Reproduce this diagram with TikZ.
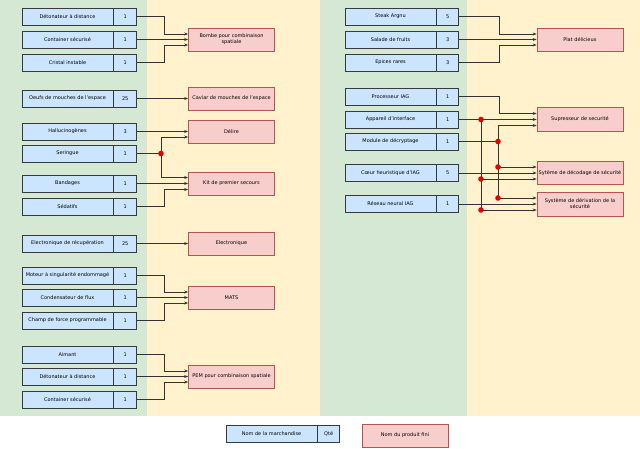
\documentclass[tikz,border=0pt]{standalone}
\usepackage{fontspec}
\setmainfont{DejaVu Sans}
\usepackage{xcolor}
\usepackage{tikz}
\usetikzlibrary{arrows.meta,positioning}

\definecolor{fondvert}{HTML}{D5E8D4}
\definecolor{fondjaune}{HTML}{FFF2CC}
\definecolor{bleuclair}{HTML}{CCE5FF}
\definecolor{bordgris}{HTML}{36393D}
\definecolor{rosefini}{HTML}{F8CECC}
\definecolor{bordrose}{HTML}{B85450}
\definecolor{traitgris}{HTML}{333333}

\tikzset{
  marchandise/.style={draw=bordgris, fill=bleuclair, line width=0.7pt,
    minimum width=91pt, minimum height=17pt, inner sep=0pt},
  quantite/.style={marchandise, minimum width=23pt},
  produit/.style={draw=bordrose, fill=rosefini, line width=0.7pt,
    minimum width=86pt, minimum height=23pt, inner sep=0pt, align=center},
  fleche/.style={draw=traitgris, line width=0.7pt, -{Stealth[length=4pt,width=3pt]}},
  trait/.style={draw=traitgris, line width=0.7pt},
  jonction/.style={fill=red!90!black}
}

\begin{document}
\begin{tikzpicture}[x=1pt, y=-1pt, every node/.style={font=\fontsize{5}{6}\selectfont}]
    % Fond et zones
    \useasboundingbox (0,0) rectangle (640,448);
    \fill[white] (0,0) rectangle (640,448);
    \fill[fondvert] (0,0) rectangle (147,416);
    \fill[fondjaune] (147,0) rectangle (320,416);
    \fill[fondvert] (320,0) rectangle (467,416);
    \fill[fondjaune] (467,0) rectangle (640,416);

    % Colonne de gauche : marchandises
    \node[marchandise] (detA) at (67.5,16.5) {Détonateur à distance};
    \node[quantite, right=0pt of detA] (detAq) {1};
    \node[marchandise] (contA) at (67.5,39.5) {Container sécurisé};
    \node[quantite, right=0pt of contA] (contAq) {1};
    \node[marchandise] (crist) at (67.5,62.5) {Cristal instable};
    \node[quantite, right=0pt of crist] (cristq) {1};

    \node[marchandise] (oeufs) at (67.5,98.5) {Oeufs de mouches de l'espace};
    \node[quantite, right=0pt of oeufs] (oeufsq) {25};

    \node[marchandise] (hallu) at (67.5,131.5) {Hallucinogènes};
    \node[quantite, right=0pt of hallu] (halluq) {3};
    \node[marchandise] (ser) at (67.5,153.5) {Seringue};
    \node[quantite, right=0pt of ser] (serq) {1};
    \node[marchandise] (band) at (67.5,183.5) {Bandages};
    \node[quantite, right=0pt of band] (bandq) {1};
    \node[marchandise] (sed) at (67.5,206.5) {Sédatifs};
    \node[quantite, right=0pt of sed] (sedq) {1};

    \node[marchandise] (elec) at (67.5,243.5) {Electronique de récupération};
    \node[quantite, right=0pt of elec] (elecq) {25};

    \node[marchandise] (mot) at (67.5,275.5) {Moteur à singularité endommagé};
    \node[quantite, right=0pt of mot] (motq) {1};
    \node[marchandise] (cond) at (67.5,297.5) {Condensateur de flux};
    \node[quantite, right=0pt of cond] (condq) {1};
    \node[marchandise] (champ) at (67.5,320.5) {Champ de force programmable};
    \node[quantite, right=0pt of champ] (champq) {1};

    \node[marchandise] (aim) at (67.5,354.5) {Aimant};
    \node[quantite, right=0pt of aim] (aimq) {1};
    \node[marchandise] (detB) at (67.5,376.5) {Détonateur à distance};
    \node[quantite, right=0pt of detB] (detBq) {1};
    \node[marchandise] (contB) at (67.5,399.5) {Container sécurisé};
    \node[quantite, right=0pt of contB] (contBq) {1};

    % Colonne de gauche : produits finis
    \node[produit] (bombe) at (231.5,39.5) {Bombe pour combinaison\\spatiale};
    \node[produit] (caviar) at (231.5,98.5) {Caviar de mouches de l'espace};
    \node[produit] (delire) at (231.5,131.5) {Délire};
    \node[produit] (kit) at (231.5,183.5) {Kit de premier secours};
    \node[produit] (elecp) at (231.5,243.5) {Electronique};
    \node[produit] (mats) at (231.5,297.5) {MATS};
    \node[produit] (pem) at (231.5,376.5) {PEM pour combinaison spatiale};

    % Colonne de droite : marchandises
    \node[marchandise] (steak) at (390.5,16.5) {Steak Argnu};
    \node[quantite, minimum width=22pt, right=0pt of steak] (steakq) {5};
    \node[marchandise] (salade) at (390.5,39.5) {Salade de fruits};
    \node[quantite, minimum width=22pt, right=0pt of salade] (saladeq) {3};
    \node[marchandise] (epices) at (390.5,62.5) {Epices rares};
    \node[quantite, minimum width=22pt, right=0pt of epices] (epicesq) {3};

    \node[marchandise] (proc) at (390.5,96.5) {Processeur IAG};
    \node[quantite, minimum width=22pt, right=0pt of proc] (procq) {1};
    \node[marchandise] (app) at (390.5,119.5) {Appareil d'interface};
    \node[quantite, minimum width=22pt, right=0pt of app] (appq) {1};
    \node[marchandise] (mod) at (390.5,141.5) {Module de décryptage};
    \node[quantite, minimum width=22pt, right=0pt of mod] (modq) {1};
    \node[marchandise] (coeur) at (390.5,173) {Cœur heuristique d'IAG};
    \node[quantite, minimum width=22pt, right=0pt of coeur] (coeurq) {5};
    \node[marchandise] (reseau) at (390.5,204) {Réseau neural IAG};
    \node[quantite, minimum width=22pt, right=0pt of reseau] (reseauq) {1};

    % Colonne de droite : produits finis
    \node[produit] (plat) at (580,39.5) {Plat délicieux};
    \node[produit, minimum height=24pt] (supp) at (580,119.5) {Supresseur de securité};
    \node[produit] (decod) at (580,173) {Sytème de décodage de sécurité};
    \node[produit, minimum height=24pt] (deriv) at (580,204) {Système de dérivation de la\\sécurité};

    % Liaisons gauche
    \draw[fleche] (detAq.east) -- ++(27,0) |- ([yshift=5.5pt]bombe.west);
    \draw[fleche] (contAq.east) -- (bombe.west);
    \draw[fleche] (cristq.east) -- ++(27,0) |- ([yshift=-5.5pt]bombe.west);
    \draw[fleche] (oeufsq.east) -- (caviar.west);
    \draw[fleche] (halluq.east) -- (delire.west);
    \coordinate (jSer) at (161,153.5);
    \draw[trait] (serq.east) -- (jSer);
    \draw[fleche] (jSer) |- ([yshift=-5.5pt]delire.west);
    \draw[fleche] (jSer) |- ([yshift=6pt]kit.west);
    \draw[fleche] (bandq.east) -- (kit.west);
    \draw[fleche] (sedq.east) -- ++(27,0) |- ([yshift=-6pt]kit.west);
    \draw[fleche] (elecq.east) -- (elecp.west);
    \draw[fleche] (motq.east) -- ++(27,0) |- ([yshift=5.5pt]mats.west);
    \draw[fleche] (condq.east) -- (mats.west);
    \draw[fleche] (champq.east) -- ++(27,0) |- ([yshift=-5.5pt]mats.west);
    \draw[fleche] (aimq.east) -- ++(27,0) |- ([yshift=5.5pt]pem.west);
    \draw[fleche] (detBq.east) -- (pem.west);
    \draw[fleche] (contBq.east) -- ++(27,0) |- ([yshift=-5.5pt]pem.west);
    \fill[jonction] (jSer) circle (2.8pt);

    % Liaisons droite
    \draw[fleche] (steakq.east) -- ++(40,0) |- ([yshift=5.5pt]plat.west);
    \draw[fleche] (saladeq.east) -- (plat.west);
    \draw[fleche] (epicesq.east) -- ++(40,0) |- ([yshift=-5.5pt]plat.west);
    \draw[fleche] (procq.east) -- ++(40,0) |- ([yshift=6pt]supp.west);
    \draw[fleche] (appq.east) -- (supp.west);
    \draw[fleche] (coeurq.east) -- (decod.west);
    \draw[fleche] (reseauq.east) -- (deriv.west);

    \coordinate (jApp) at (481,119.5);
    \coordinate (jAppA) at (481,179);
    \coordinate (jAppB) at (481,210);
    \draw[fleche] (jApp) |- ([yshift=-6pt]decod.west);
    \draw[fleche] (jApp) |- ([yshift=-6pt]deriv.west);

    \coordinate (jMod) at (498,141.5);
    \coordinate (jModA) at (498,167);
    \coordinate (jModB) at (498,198);
    \draw[trait] (modq.east) -- (jMod);
    \draw[fleche] (jMod) |- ([yshift=-6pt]supp.west);
    \draw[fleche] (jMod) |- ([yshift=6pt]decod.west);
    \draw[fleche] (jMod) |- ([yshift=6pt]deriv.west);

    \foreach \j in {jApp,jAppA,jAppB,jMod,jModA,jModB}
        \fill[jonction] (\j) circle (2.8pt);

    % Légende
    \node[marchandise] (leg) at (271.5,433.5) {Nom de la marchandise};
    \node[quantite, minimum width=22pt, right=0pt of leg] (legq) {Qté};
    \node[produit] (legp) at (405,435.5) {Nom du produit fini};
\end{tikzpicture}
\end{document}
